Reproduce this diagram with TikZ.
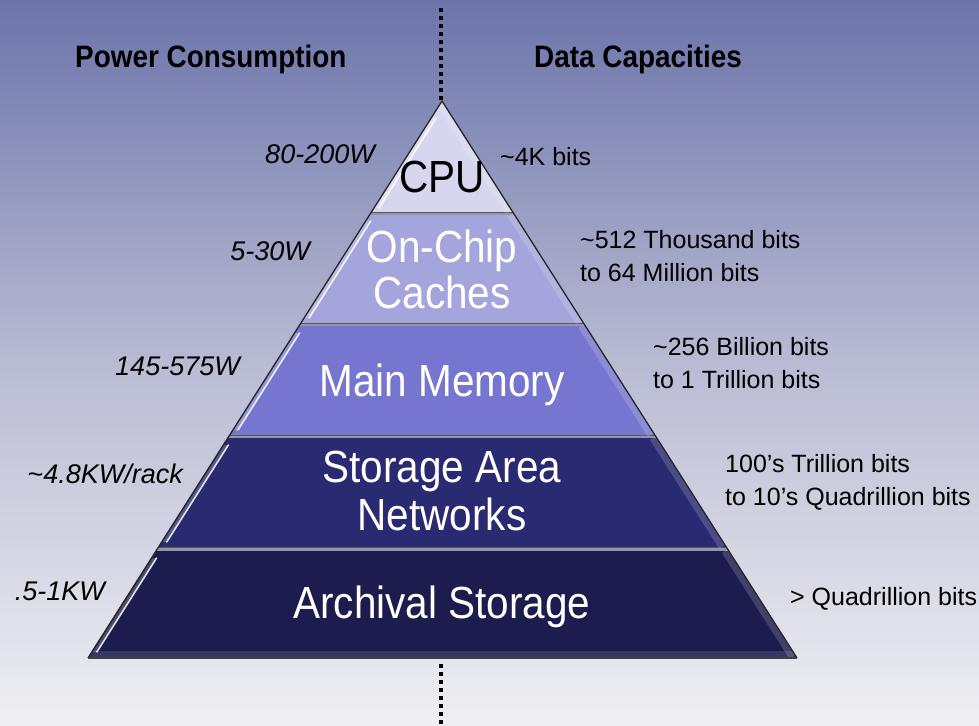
\documentclass[tikz,border=0pt]{standalone}
\usepackage{fontspec}
\setmainfont{Liberation Sans}
\newfontfamily\layerfont[FakeStretch=0.9]{Liberation Sans}
\newfontfamily\headfont[FakeStretch=0.9]{Liberation Sans}
\usetikzlibrary{calc}
\definecolor{bgtop}{HTML}{6C74AA}
\definecolor{bgmid}{HTML}{B9BBD3}
\definecolor{bgbot}{HTML}{EFEFF3}
\definecolor{cpuc}{HTML}{D6D6EF}
\definecolor{chipc}{HTML}{A5A5DD}
\definecolor{memc}{HTML}{7676D0}
\definecolor{sanc}{HTML}{2A2A72}
\definecolor{archc}{HTML}{1C1C4E}
\definecolor{sepc}{HTML}{9494AA}
\begin{document}
\begin{tikzpicture}[x=1pt,y=-1pt,
  layerlabel/.style={inner sep=0, anchor=base, text=white, font=\layerfont\fontsize{45}{45}\selectfont},
  powerlabel/.style={inner sep=0, anchor=base east, font=\itshape\fontsize{27}{32}\selectfont},
  datalabel/.style={inner sep=0, anchor=base west, font=\fontsize{25}{33.5}\selectfont},
  headlabel/.style={inner sep=0, anchor=base west, font=\headfont\bfseries\fontsize{31}{34}\selectfont},
  divider/.style={line width=4pt, dash pattern=on 4pt off 4pt}]
\useasboundingbox (0,0) rectangle (979,725);
\shade[top color=bgtop, bottom color=bgbot, middle color=bgmid] (0,0) rectangle (979,725);

% pyramid corners
\coordinate (apex) at (442,101);
\coordinate (bl) at (88,658);
\coordinate (br) at (797,658);

\fill[sepc] (apex) -- (bl) -- (br) -- cycle;
\begin{scope}
  \clip (apex) -- (bl) -- (br) -- cycle;
  \foreach \yt/\yb/\col in {95/212/cpuc, 326/435/memc, 215/323/chipc, 438/547/sanc, 551/657/archc}{
    \fill[\col] (0,\yt) rectangle (979,\yb);
  }
  \foreach \ys in {212.5,323.5,435.5,547.5}{
    \draw[black!65, line width=1.2pt] (0,\ys) -- (979,\ys);
  }
  % right bevel
  \foreach \ya/\yb in {101/212, 215/323, 326/435, 438/547, 551/657}{
    \pgfmathsetmacro\xa{442+0.6373*(\ya-101)-4}
    \pgfmathsetmacro\xb{442+0.6373*(\yb-101)-4}
    \draw[white, opacity=0.16, line width=7pt] (\xa,\ya) -- (\xb,\yb);
  }
  % bottom bevel
  \fill[white, opacity=0.12] (0,651) rectangle (979,657);
\end{scope}
% left highlights
\foreach \ya/\yb in {118/208, 221/318, 333/430, 445/542, 558/652}{
  \pgfmathsetmacro\xa{442-0.6355*(\ya-101)+5}
  \pgfmathsetmacro\xb{442-0.6355*(\yb-101)+5}
  \fill[white, opacity=0.22] (\xa-4,\ya) -- (\xa,\ya) -- (\xb,\yb) -- (\xb-4,\yb) -- cycle;
  \draw[white, opacity=0.85, line width=1.6pt, line cap=round] (\xa,\ya) -- (\xb,\yb);
}
\draw[black!85, line width=1.3pt, line join=round] (bl) -- (apex) -- (br);
\draw[black!75, line width=2.2pt] (bl) -- (br);

% divider
\coordinate (dtopA) at (441,8);
\coordinate (dtopB) at (441,100);
\coordinate (dbotA) at (441,664);
\coordinate (dbotB) at (441,724);
\draw[divider] (dtopA) -- (dtopB);
\draw[divider] (dbotA) -- (dbotB);

% headers
\node[headlabel] (hpow) at (75,67) {Power Consumption};
\node[headlabel] (hdata) at (534,67) {Data Capacities};

% layer labels
\node[layerlabel, text=black] (cpu) at (442,192) {CPU};
\node[layerlabel] (chip) at (442,262) {\begin{tabular}[t]{@{}c@{}}On-Chip\\Caches\end{tabular}};
\node[layerlabel] (mem) at (442,396) {Main Memory};
\node[layerlabel, font=\layerfont\fontsize{45}{48}\selectfont] (san) at (442,482) {\begin{tabular}[t]{@{}c@{}}Storage Area\\Networks\end{tabular}};
\node[layerlabel] (arch) at (442,618) {Archival Storage};

% power labels
\node[powerlabel] (p1) at (375,163) {80-200W};
\node[powerlabel] (p2) at (310,260) {5-30W};
\node[powerlabel] (p3) at (240,375) {145-575W};
\node[powerlabel] (p4) at (183,483) {\textasciitilde4.8KW/rack};
\node[powerlabel] (p5) at (105,600) {.5-1KW};

% data labels
\node[datalabel] (d1) at (500,165) {\textasciitilde4K bits};
\node[datalabel] (d2) at (580,248) {\begin{tabular}[t]{@{}l@{}}\textasciitilde512 Thousand bits\\to 64 Million bits\end{tabular}};
\node[datalabel] (d3) at (653,355) {\begin{tabular}[t]{@{}l@{}}\textasciitilde256 Billion bits\\to 1 Trillion bits\end{tabular}};
\node[datalabel] (d4) at (725,472) {\begin{tabular}[t]{@{}l@{}}100’s Trillion bits\\to 10’s Quadrillion bits\end{tabular}};
\node[datalabel] (d5) at (790,605) {> Quadrillion bits};
\end{tikzpicture}
\end{document}
